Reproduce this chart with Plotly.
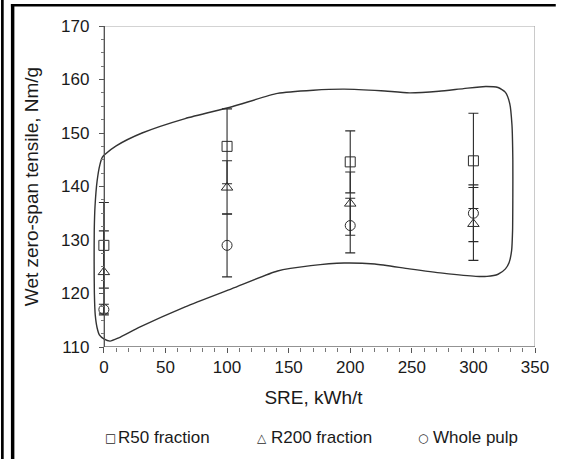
import plotly.graph_objects as go

# Specific refining energy (kWh/t)
sre = [0, 100, 200, 300]

# Wet zero-span tensile index (Nm/g) and error-bar half widths
r50 = [129.0, 147.5, 144.6, 144.8]
r50_err = [8.0, 7.0, 5.8, 8.9]
r200 = [124.0, 139.8, 136.8, 133.0]
r200_err = [7.7, 5.0, 5.9, 6.8]
whole = [117.0, 129.0, 132.7, 135.0]
whole_err = [1.0, 5.9, 5.1, 5.3]

# Hand-drawn envelope around all measurements
env_x = [0.8, 10, 31, 66, 104, 141, 170, 195, 225, 248, 272, 292, 310, 320, 326,
         329.5, 331.3, 332, 332, 331.8, 331, 329, 326, 320, 311, 302, 275, 248,
         220, 195, 168, 141, 104, 66, 29, 12, 5, 0, -3.5, -5.5, -7, -7.7, -7.9,
         -7.8, -7.2, -5.5, -3.2, -1.2, 0.8]
env_y = [146.0, 147.6, 150.0, 152.7, 154.9, 157.4, 158.0, 158.2, 157.9, 157.5,
         157.8, 158.3, 158.7, 158.5, 157.6, 155.5, 151.5, 145, 138, 131.8, 128,
         125.8, 124.6, 123.6, 123.2, 123.2, 123.8, 124.6, 125.5, 125.7, 125.2,
         124.2, 120.9, 117.5, 113.7, 111.7, 111.1, 111.5, 112.2, 113.6, 116, 120,
         126, 131.8, 136.2, 141.0, 144.1, 145.5, 146.0]

legend_labels = ["R50 fraction", "R200 fraction", "Whole pulp"]

W, H = 561, 459
ML, MR, MT, MB = 92, 21, 26, 112
X0_PX, X1_PX = 104, 540           # pixel positions of SRE = 0 and 350
px_per_unit = (X1_PX - X0_PX) / 350.0
x_lo = -(X0_PX - ML) / px_per_unit

def paper_x(px):
    return (px - ML) / (W - ML - MR)

def paper_y(py):
    return (H - MB - py) / (H - MT - MB)

INK = "#2b2b2b"
FONT = "Liberation Sans, Arial, sans-serif"

fig = go.Figure()

fig.add_trace(go.Scatter(
    x=env_x, y=env_y, mode="lines",
    line=dict(color="#333333", width=1.4, shape="spline", smoothing=0.6),
    hoverinfo="skip", showlegend=False,
))

series = [
    (r50, r50_err, "square-open"),
    (r200, r200_err, "triangle-up-open"),
    (whole, whole_err, "circle-open"),
]
for (vals, errs, sym), name in zip(series, legend_labels):
    fig.add_trace(go.Scatter(
        x=sre, y=vals, mode="markers", name=name,
        marker=dict(symbol=sym, size=10, color=INK, line=dict(width=1, color=INK)),
        error_y=dict(type="data", array=errs, visible=True, color=INK,
                     thickness=1.1, width=5),
        showlegend=False,
    ))

shapes = [
    # plot frame (top and right edges in light grey)
    dict(type="rect", xref="x", yref="y", x0=0, x1=350, y0=110, y1=170,
         line=dict(color="#a8a8a8", width=1.2), layer="below"),
    # x axis line starting at the y axis
    dict(type="line", xref="x", yref="y", x0=0, x1=350, y0=110, y1=110,
         line=dict(color="#555555", width=1.2)),
    # outer black border
    dict(type="rect", xref="paper", yref="paper", x0=paper_x(0), x1=paper_x(2.7),
         y0=paper_y(H), y1=paper_y(0), fillcolor="black", line=dict(width=0)),
    dict(type="rect", xref="paper", yref="paper", x0=paper_x(10), x1=paper_x(13.5),
         y0=paper_y(H), y1=paper_y(4), fillcolor="black", line=dict(width=0)),
    dict(type="rect", xref="paper", yref="paper", x0=paper_x(10), x1=paper_x(W),
         y0=paper_y(6.5), y1=paper_y(4), fillcolor="black", line=dict(width=0)),
]

annotations = []
glyphs = ["□", "△", "○"]
glyph_px = [110.5, 264, 427]
text_px = [116, 271, 435]
LEG_Y = 437.5
for g, gx, tx, lab in zip(glyphs, glyph_px, text_px, legend_labels):
    annotations.append(dict(text=g, x=paper_x(gx), y=paper_y(LEG_Y), xref="paper",
                            yref="paper", showarrow=False, xanchor="center",
                            yanchor="middle",
                            font=dict(family="DejaVu Sans", size=12, color=INK)))
    annotations.append(dict(text=lab, x=paper_x(tx), y=paper_y(LEG_Y), xref="paper",
                            yref="paper", showarrow=False, xanchor="left",
                            yanchor="middle",
                            font=dict(family=FONT, size=17, color="#1a1a1a")))

fig.update_layout(
    width=W, height=H,
    margin=dict(l=ML, r=MR, t=MT, b=MB, pad=0),
    paper_bgcolor="white", plot_bgcolor="white",
    font=dict(family=FONT, size=17, color="#1a1a1a"),
    shapes=shapes, annotations=annotations,
    showlegend=False,
    xaxis=dict(
        range=[x_lo, 350], showgrid=False, zeroline=False, showline=False,
        tickmode="linear", tick0=0, dtick=50,
        ticks="outside", ticklen=5, tickwidth=1.2, tickcolor="#555555",
        minor=dict(dtick=10, ticks="outside", ticklen=4, tickwidth=1,
                   tickcolor="#777777", showgrid=False),
        tickfont=dict(size=17),
        title=dict(text="SRE, kWh/t", font=dict(size=19), standoff=14),
    ),
    yaxis=dict(
        range=[110, 170], anchor="free", position=paper_x(X0_PX),
        showgrid=False, zeroline=False,
        showline=True, linecolor="#555555", linewidth=1.2,
        tickmode="linear", tick0=110, dtick=10,
        ticks="outside", ticklen=5, tickwidth=1.2, tickcolor="#555555",
        minor=dict(dtick=2.5, ticks="outside", ticklen=3, tickwidth=1,
                   tickcolor="#777777", showgrid=False),
        tickfont=dict(size=17), ticklabelstandoff=6,
        title=dict(text="Wet zero-span tensile, Nm/g", font=dict(size=19), standoff=16),
    ),
)

fig.write_html("out.html")
